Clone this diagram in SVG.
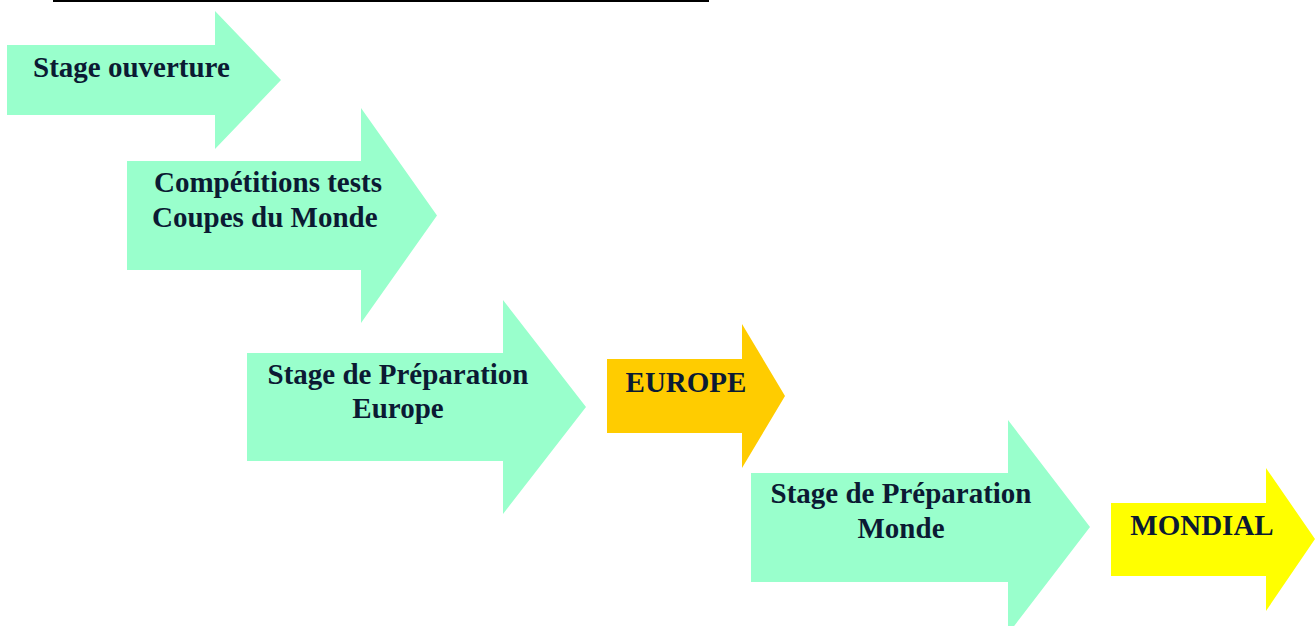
<svg xmlns="http://www.w3.org/2000/svg" width="1315" height="626" viewBox="0 0 1315 626">
<style>
.t{font-family:"Liberation Serif","Times New Roman",serif;font-weight:bold;font-size:29px;fill:#0b1a33}
.m{text-anchor:middle}
.g{fill:#99ffcc}
.o{fill:#ffcc00}
.y{fill:#ffff00}
</style>
<rect width="1315" height="626" fill="#ffffff"/>
<g id="topline"><rect x="53" y="0" width="656" height="2" fill="#000000"/></g>
<g id="connectors"></g>
<g id="n1">
<polygon class="g" points="7,45 215,45 215,11 281,80 215,149 215,115 7,115"/>
<text class="t" x="33" y="77">Stage ouverture</text>
</g>
<g id="n2">
<polygon class="g" points="127,161 361,161 361,108 437,215.5 361,323 361,270 127,270"/>
<text class="t" x="154" y="192">Compétitions tests</text>
<text class="t" x="152" y="227">Coupes du Monde</text>
</g>
<g id="n3">
<polygon class="g" points="247,353 503,353 503,300 586,407 503,514 503,461 247,461"/>
<text class="t m" x="398" y="384">Stage de Préparation</text>
<text class="t m" x="398" y="418">Europe</text>
</g>
<g id="n4">
<polygon class="o" points="607,359 742,359 742,324 785,396 742,468 742,433 607,433"/>
<text class="t m" x="686" y="392">EUROPE</text>
</g>
<g id="n5">
<polygon class="g" points="751,473 1008,473 1008,420 1090,527 1008,634 1008,582 751,582"/>
<text class="t m" x="901" y="503">Stage de Préparation</text>
<text class="t m" x="901" y="538">Monde</text>
</g>
<g id="n6">
<polygon class="y" points="1111,503 1266,503 1266,468 1315,539 1266,611 1266,576 1111,576"/>
<text class="t m" x="1202" y="535">MONDIAL</text>
</g>
</svg>
